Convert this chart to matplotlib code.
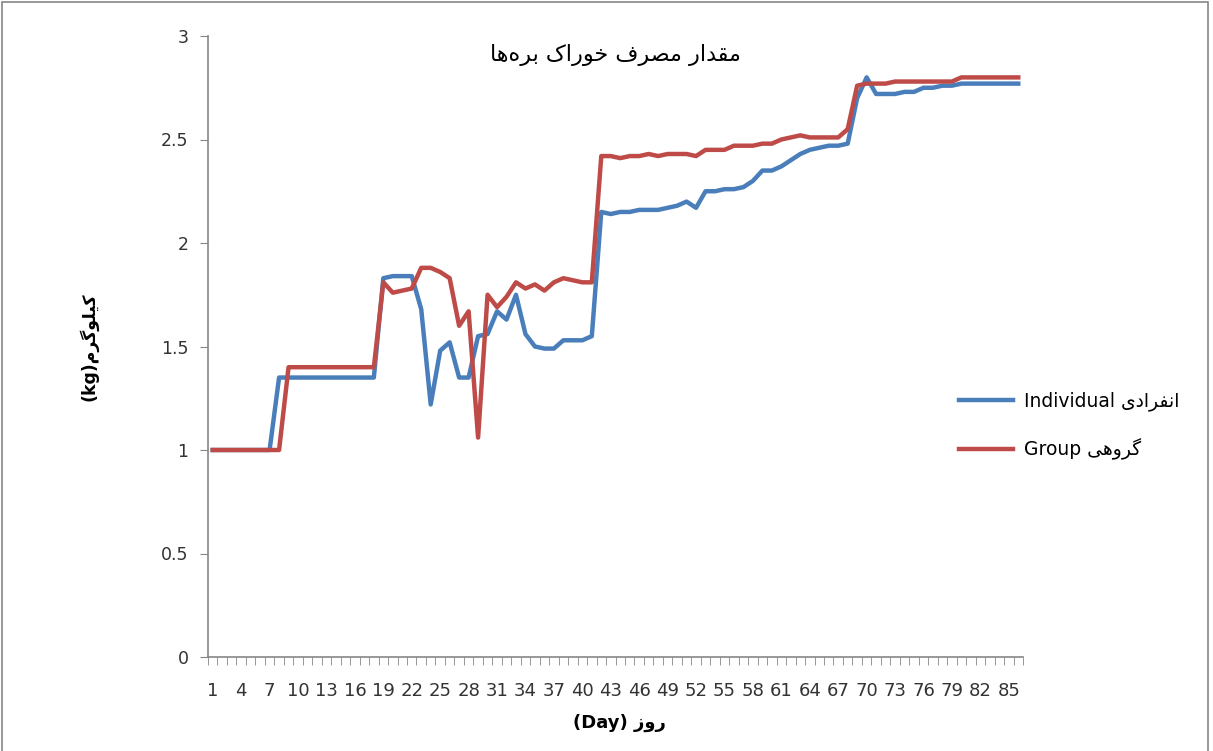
import matplotlib
matplotlib.use("Agg")
import matplotlib.pyplot as plt
import numpy as np
from matplotlib.patches import Rectangle

# daily feed intake (kg)
days = list(range(1, 87))
individual = ([1.0] * 7 + [1.35] * 11 +
              [1.83, 1.84, 1.84, 1.84, 1.68, 1.22, 1.48, 1.52, 1.35, 1.35,
               1.55, 1.56, 1.67, 1.63, 1.75, 1.56, 1.50, 1.49, 1.49, 1.53,
               1.53, 1.53, 1.55,
               2.15, 2.14, 2.15, 2.15, 2.16, 2.16, 2.16, 2.17, 2.18, 2.20,
               2.17, 2.25, 2.25, 2.26, 2.26, 2.27, 2.30, 2.35, 2.35, 2.37,
               2.40, 2.43, 2.45, 2.46, 2.47, 2.47, 2.48, 2.70, 2.80, 2.72,
               2.72, 2.72, 2.73, 2.73, 2.75, 2.75, 2.76, 2.76, 2.77] + [2.77] * 6)
group = ([1.0] * 8 + [1.40] * 10 +
         [1.81, 1.76, 1.77, 1.78, 1.88, 1.88, 1.86, 1.83, 1.60, 1.67,
          1.06, 1.75, 1.69, 1.74, 1.81, 1.78, 1.80, 1.77, 1.81, 1.83,
          1.82, 1.81, 1.81,
          2.42, 2.42, 2.41, 2.42, 2.42, 2.43, 2.42, 2.43, 2.43, 2.43,
          2.42, 2.45, 2.45, 2.45, 2.47, 2.47, 2.47, 2.48, 2.48, 2.50,
          2.51, 2.52, 2.51, 2.51, 2.51, 2.51, 2.55, 2.76, 2.77, 2.77,
          2.77, 2.78, 2.78, 2.78, 2.78, 2.78, 2.78, 2.78] + [2.80] * 7)
xtick_days = days[::3]
yticks = [0, 0.5, 1, 1.5, 2, 2.5, 3]
ytick_labels = ["0", "0.5", "1", "1.5", "2", "2.5", "3"]

title_fa = "مقدار مصرف خوراک بره\u200cها"
ylabel_fa = "کیلوگرم"
xlabel_fa = "روز"
label_ind = "انفرادی"
label_grp = "گروهی"

# --- minimal arabic/persian shaping (matplotlib has no text shaping) ---
FORMS = {  # iso, fin, ini, med
    "ا": (0xFE8D, 0xFE8E, None, None),
    "د": (0xFEA9, 0xFEAA, None, None),
    "ر": (0xFEAD, 0xFEAE, None, None),
    "ز": (0xFEAF, 0xFEB0, None, None),
    "و": (0xFEED, 0xFEEE, None, None),
    "ب": (0xFE8F, 0xFE90, 0xFE91, 0xFE92),
    "خ": (0xFEA5, 0xFEA6, 0xFEA7, 0xFEA8),
    "ص": (0xFEB9, 0xFEBA, 0xFEBB, 0xFEBC),
    "ف": (0xFED1, 0xFED2, 0xFED3, 0xFED4),
    "ق": (0xFED5, 0xFED6, 0xFED7, 0xFED8),
    "ل": (0xFEDD, 0xFEDE, 0xFEDF, 0xFEE0),
    "م": (0xFEE1, 0xFEE2, 0xFEE3, 0xFEE4),
    "ن": (0xFEE5, 0xFEE6, 0xFEE7, 0xFEE8),
    "ه": (0xFEE9, 0xFEEA, 0xFEEB, 0xFEEC),
    "ک": (0xFB8E, 0xFB8F, 0xFB90, 0xFB91),
    "گ": (0xFB92, 0xFB93, 0xFB94, 0xFB95),
    "ی": (0xFBFC, 0xFBFD, 0xFBFE, 0xFBFF),
}


def shape(text):
    out = []
    n = len(text)
    for i, ch in enumerate(text):
        if ch not in FORMS:
            if ch != "\u200c":
                out.append(ch)
            continue
        prev = text[i - 1] if i > 0 else ""
        nxt = text[i + 1] if i + 1 < n else ""
        j_prev = prev in FORMS and FORMS[prev][2] is not None
        j_next = FORMS[ch][2] is not None and nxt in FORMS
        iso, fin, ini, med = FORMS[ch]
        if j_prev and j_next:
            c = med
        elif j_prev:
            c = fin
        elif j_next:
            c = ini
        else:
            c = iso
        out.append(chr(c))
    return "".join(out)[::-1]


plt.rcParams["font.family"] = ["DejaVu Sans"]
gray = "#868686"

fig = plt.figure(figsize=(12.13, 7.51), dpi=100)
ax = fig.add_axes([208 / 1213, 94 / 751, 815 / 1213, 621 / 751])

ax.plot(days, individual, color="#4A7EBB", lw=3.2, label="Individual " + shape(label_ind))
ax.plot(days, group, color="#BE4B48", lw=3.2, label="Group " + shape(label_grp))

ax.set_xlim(0.5, len(days) + 0.5)
ax.set_ylim(0, 3)
ax.set_yticks(yticks)
ax.set_yticklabels(ytick_labels)
ax.set_xticks(xtick_days)
ax.set_xticklabels([str(d) for d in xtick_days])
ax.set_xticks(np.arange(0.5, len(days) + 1, 1.0), minor=True)

for s in ["top", "right"]:
    ax.spines[s].set_visible(False)
for s in ["left", "bottom"]:
    ax.spines[s].set_color(gray)
    ax.spines[s].set_linewidth(1.2)

ax.tick_params(axis="y", length=6, color=gray, labelsize=12.5, pad=8, labelcolor="#333333")
ax.tick_params(axis="x", which="major", length=0, labelsize=13, pad=18, labelcolor="#333333")
ax.tick_params(axis="x", which="minor", length=6, color=gray)

ax.text(0.5, 0.969, shape(title_fa), transform=ax.transAxes, ha="center", va="center",
        fontsize=16)
ax.set_ylabel("(kg)" + shape(ylabel_fa), fontsize=12.5, fontweight="bold")
ax.yaxis.set_label_coords(-0.134, 0.5)
ax.set_xlabel("(Day) " + shape(xlabel_fa), fontsize=13, fontweight="bold")
ax.xaxis.set_label_coords(0.505, -0.092)

ax.legend(loc="center left", bbox_to_anchor=(0.921, 0.372), frameon=False,
          fontsize=13.5, handlelength=2.9, labelspacing=1.45, borderaxespad=0,
          borderpad=0, handletextpad=0.6)

fig.add_artist(Rectangle((0.002, -0.01), 0.994, 1.007, transform=fig.transFigure,
                         fill=False, edgecolor=gray, lw=1.2))

fig.savefig("out.png", dpi=100)
